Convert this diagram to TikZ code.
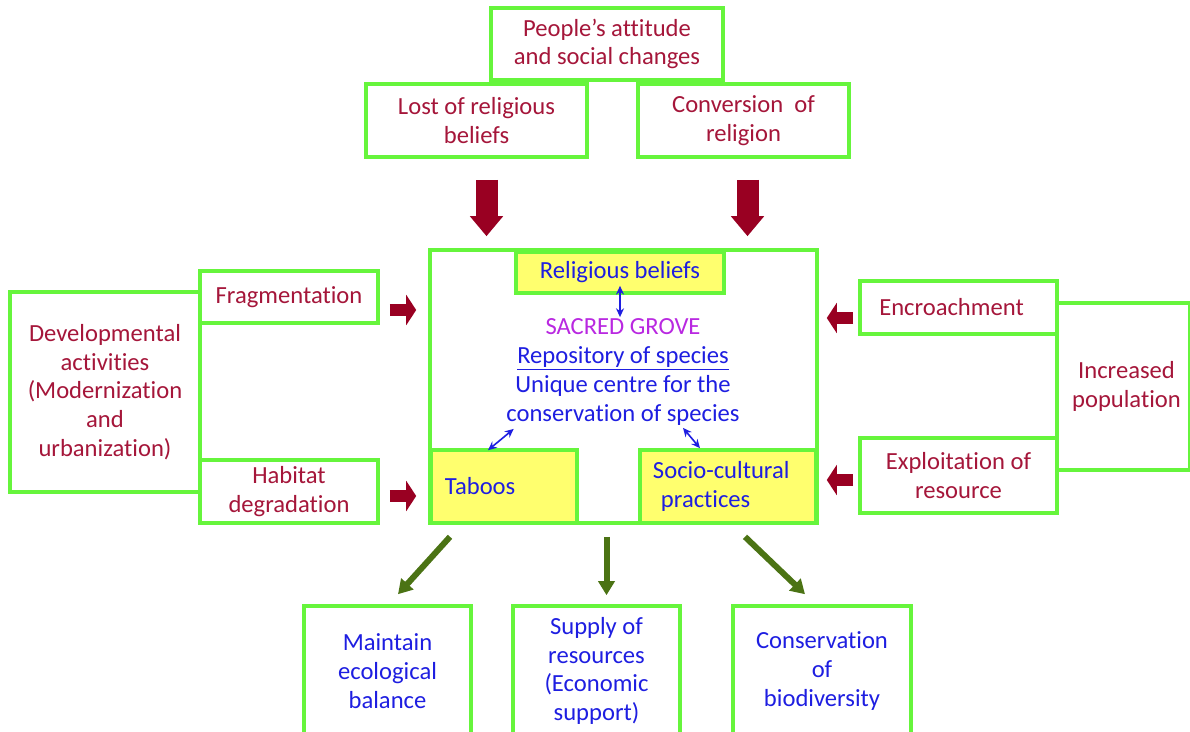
\documentclass[tikz,border=0pt]{standalone}
\usepackage{fontspec}
\setmainfont{Carlito}[Ligatures=NoCommon]
\usetikzlibrary{arrows.meta,calc}

\definecolor{framegreen}{RGB}{102,245,60}
\definecolor{causered}{RGB}{165,22,58}
\definecolor{arrowred}{RGB}{153,0,34}
\definecolor{roleblue}{RGB}{30,30,225}
\definecolor{grovepurple}{RGB}{185,40,225}
\definecolor{boxyellow}{RGB}{255,255,110}
\definecolor{arrowgreen}{RGB}{75,115,20}

\newcommand{\unitpx}{0.025cm}

\tikzset{
  gbox/.style={draw=framegreen, line width=0.09cm, fill=white, align=center, inner sep=1pt,
    font=\fontsize{17.5}{20.5}\selectfont, text=causered},
  ybox/.style={gbox, fill=boxyellow, text=roleblue},
  bluebox/.style={gbox, text=roleblue},
  sz/.style 2 args={minimum width=#1*\unitpx, minimum height=#2*\unitpx},
  bigred/.style={draw=arrowred, line width=0.55cm, -{Triangle[length=0.5cm,width=0.8cm]}},
  fatred/.style={draw=arrowred, line width=0.3cm, -{Triangle[length=0.25cm,width=0.75cm]}},
  greenarrow/.style={draw=arrowgreen, line width=0.15cm, -{Triangle[length=0.35cm,width=0.4cm]}},
  dblblue/.style={draw=roleblue, line width=0.04cm, {Stealth[length=0.22cm,width=0.2cm]}-{Stealth[length=0.22cm,width=0.2cm]}}
}

\begin{document}
\begin{tikzpicture}[x=0.025cm,y=-0.025cm]
\useasboundingbox (0,0) rectangle (1190,731);

% causes on top
\node(people)[gbox,sz={232}{72}] at (607,44) {People’s attitude\\and social changes};
\node(lost)[gbox,sz={221}{73}] at (476.5,120.5) {Lost of religious\\beliefs};
\node(conv)[gbox,sz={211}{73}] at (743.5,120.5) {Conversion\ \ of\\religion};

% sacred grove
\node(main)[gbox,sz={387}{273}] at (623.5,386.5) {};
\node(rel)[ybox,sz={208}{41}] at (620,272.5) {Religious beliefs};
\node(taboo)[ybox,sz={146}{73},text width=2.95cm,inner xsep=0.35cm,align=left] at (504,486.5) {Taboos};
\node(socio)[ybox,sz={176}{73},text width=3.75cm,inner xsep=0.325cm,align=left] at (728,486.5) {Socio-cultural\\\hspace{0.2cm}practices};
\node(grove)[align=center,inner sep=1pt,text=roleblue,font=\fontsize{17.5}{20.5}\selectfont] at (623,372)
  {\textcolor{grovepurple}{SACRED GROVE}\\\underline{Repository of species}\\Unique centre for the\\conservation of species};

% left side
\node(dev)[gbox,sz={190}{200}] at (105,392) {Developmental\\activities\\(Modernization\\and\\urbanization)};
\node(frag)[gbox,sz={178}{52}] at (289,297) {Fragmentation};
\node(habitat)[gbox,sz={178}{63}] at (289,491.5) {Habitat\\degradation};

% right side
\node(incr)[gbox,sz={133}{167}] at (1123.5,386.5) {\hspace{0.15cm}Increased\\\hspace{0.15cm}population};
\node(encr)[gbox,sz={197}{53}] at (958.5,307.5) {\hspace{-0.35cm}Encroachment};
\node(expl)[gbox,sz={197}{75}] at (958.5,475.5) {Exploitation of\\resource};

% outcomes
\node(maint)[bluebox,sz={167}{130}] at (387.5,671) {Maintain\\ecological\\balance};
\node(supply)[bluebox,sz={167}{130}] at (596.5,671) {Supply of\\resources\\(Economic\\support)};
\node(cons)[bluebox,sz={178}{130}] at (822,671) {Conservation\\of\\biodiversity};

\draw[bigred]($(lost.south)+(10,21)$)--($(lost.south|-main.north)+(10,-12)$);
\draw[bigred]($(conv.south)+(4,21)$)--($(conv.south|-main.north)+(4,-12)$);

\draw[fatred]($(frag.east)+(10,13)$)--($(frag.east-|main.west)+(-12,13)$);
\draw[fatred]($(habitat.east)+(10,4.5)$)--($(habitat.east-|main.west)+(-12,4.5)$);
\draw[fatred]($(encr.west)+(-5,10.5)$)--($(encr.west-|main.east)+(8,10.5)$);
\draw[fatred]($(expl.west)+(-5,4.5)$)--($(expl.west-|main.east)+(8,4.5)$);

\draw[dblblue]($(rel.south)+(0,-9)$)--(rel.south|-grove.north);
\draw[dblblue]($(grove.south west)+(9,2)$)--($(taboo.north)+(-16,2)$);
\draw[dblblue]($(socio.north|-grove.south)+(-45,1)$)--($(socio.north)+(-28,0)$);

\draw[greenarrow]($(main.south)+(-173.5,12)$)--($(maint.north)+(10.5,-10)$);
\draw[greenarrow]($(supply.north|-main.south)+(10,12)$)--($(supply.north)+(10,-9)$);
\draw[greenarrow]($(main.south)+(121.5,12)$)--($(cons.north)+(-17,-10)$);

\end{tikzpicture}
\end{document}
